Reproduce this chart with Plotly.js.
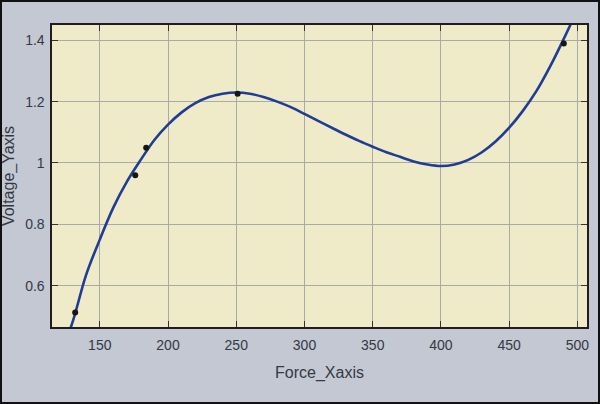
<!DOCTYPE html>
<html>
<head>
<meta charset="utf-8">
<script src="https://cdn.plot.ly/plotly-3.0.1.min.js"></script>
<style>
html,body{margin:0;padding:0;background:#c3c8d3;}
#wrap{position:relative;width:600px;height:404px;}
#chart{width:600px;height:404px;}
#frame{position:absolute;left:0;top:0;width:596px;height:400px;border:2px solid #111;pointer-events:none;}
</style>
</head>
<body>
<div id="wrap"><div id="chart"></div><div id="frame"></div></div>
<script>
// Fitted curve
const fitX = [120, 130, 140, 150, 160, 170, 180, 190, 200, 210, 220, 230, 240, 250, 260, 270, 280, 290, 300, 310, 320, 330, 340, 350, 360, 370, 380, 390, 400, 410, 420, 430, 440, 450, 460, 470, 480, 490, 500];
const fitY = [0.36, 0.48, 0.635, 0.75, 0.855, 0.94, 1.01, 1.075, 1.125, 1.165, 1.195, 1.215, 1.226, 1.23, 1.226, 1.215, 1.2, 1.182, 1.16, 1.137, 1.115, 1.093, 1.072, 1.053, 1.035, 1.02, 1.005, 0.995, 0.99, 0.995, 1.01, 1.035, 1.07, 1.115, 1.17, 1.235, 1.315, 1.405, 1.50];
// Measured points
const ptX = [132, 176, 184, 251, 490];
const ptY = [0.512, 0.96, 1.05, 1.226, 1.39];
// Ticks
const xTicks = [150, 200, 250, 300, 350, 400, 450, 500];
const yTicks = [0.6, 0.8, 1.0, 1.2, 1.4];
const yTickText = ['0.6', '0.8', '1', '1.2', '1.4'];

const traces = [
  {x: fitX, y: fitY, type: 'scatter', mode: 'lines', line: {color: '#1f3c96', width: 2.6, shape: 'spline', smoothing: 1}, hoverinfo: 'skip'},
  {x: ptX, y: ptY, type: 'scatter', mode: 'markers', marker: {color: '#151515', size: 6}}
];

const axisCommon = {
  showline: true, linecolor: '#1e1e1e', linewidth: 1.6, mirror: 'ticks',
  ticks: 'inside', ticklen: 6, tickcolor: '#333', tickwidth: 1,
  showgrid: true, gridcolor: '#a9aba6', gridwidth: 1, zeroline: false,
  tickfont: {family: 'Liberation Sans, Arial, sans-serif', size: 14, color: '#353845'}
};

const layout = {
  width: 600, height: 404,
  paper_bgcolor: '#c3c8d3', plot_bgcolor: '#efebc8',
  margin: {l: 52, r: 13, t: 25, b: 77},
  showlegend: false,
  xaxis: Object.assign({}, axisCommon, {
    range: [115, 507], tickvals: xTicks, ticktext: xTicks.map(String), ticklabelstandoff: 5,
    title: {text: 'Force_Xaxis', standoff: 14, font: {family: 'Liberation Sans, Arial, sans-serif', size: 16, color: '#353845'}}
  }),
  yaxis: Object.assign({}, axisCommon, {
    range: [0.465, 1.45], tickvals: yTicks, ticktext: yTickText, ticklabelstandoff: 3,
    title: {text: 'Voltage_Yaxis', standoff: 8, font: {family: 'Liberation Sans, Arial, sans-serif', size: 16, color: '#353845'}}
  })
};

Plotly.newPlot('chart', traces, layout, {displayModeBar: false, staticPlot: true});
</script>
</body>
</html>
